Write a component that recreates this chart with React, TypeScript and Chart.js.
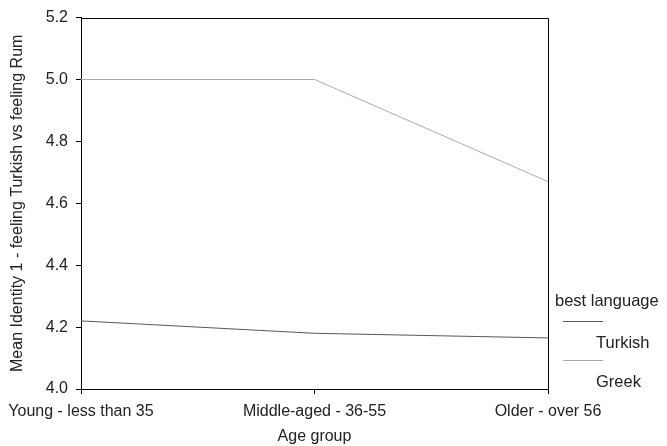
import React, { useEffect, useRef } from "react";
import { Chart, registerables } from "chart.js";

Chart.register(...registerables);

const categories = ["Young - less than 35", "Middle-aged - 36-55", "Older - over 56"];
const turkishValues = [4.22, 4.18, 4.165];
const greekValues = [5.0, 5.0, 4.67];
const seriesNames = ["Turkish", "Greek"];
const legendTitle = "best language";
const yTitle = "Mean Identity 1 - feeling Turkish vs feeling Rum";
const xTitle = "Age group";

const FONT = "'Liberation Sans', Arial, Helvetica, sans-serif";
const FS = 16;
const TURKISH_COLOR = "#5a5a5a";
const GREEK_COLOR = "#ababab";

const legendPlugin = {
  id: "customLegend",
  afterDraw(chart: any) {
    const ctx = chart.ctx;
    ctx.save();
    ctx.font = `16.5px ${FONT}`;
    ctx.fillStyle = "#222";
    ctx.textBaseline = "middle";
    ctx.textAlign = "left";
    ctx.fillText(legendTitle, 555, 301);
    const colors = [TURKISH_COLOR, GREEK_COLOR];
    const lineYs = [321, 360];
    const textYs = [343, 382];
    seriesNames.forEach((name, i) => {
      ctx.strokeStyle = colors[i];
      ctx.lineWidth = 1;
      ctx.beginPath();
      ctx.moveTo(563, lineYs[i] + 0.5);
      ctx.lineTo(603, lineYs[i] + 0.5);
      ctx.stroke();
      ctx.fillText(name, 596, textYs[i]);
    });
    const a = chart.chartArea;
    const t = Math.round(a.top) + 0.5;
    const r = Math.round(a.right) + 0.5;
    ctx.strokeStyle = "#000";
    ctx.lineWidth = 1;
    ctx.beginPath();
    ctx.moveTo(a.left, t);
    ctx.lineTo(r, t);
    ctx.lineTo(r, a.bottom);
    ctx.stroke();
    ctx.restore();
  },
};

export default function App() {
  const ref = useRef<HTMLCanvasElement>(null);
  useEffect(() => {
    document.body.style.margin = "0";
    const chart = new Chart(ref.current!, {
      type: "line",
      data: {
        labels: categories,
        datasets: [
          {
            label: seriesNames[0],
            data: turkishValues,
            borderColor: TURKISH_COLOR,
            borderWidth: 1,
            pointRadius: 0,
            tension: 0,
            fill: false,
          },
          {
            label: seriesNames[1],
            data: greekValues,
            borderColor: GREEK_COLOR,
            borderWidth: 1,
            pointRadius: 0,
            tension: 0,
            fill: false,
          },
        ],
      },
      options: {
        responsive: false,
        animation: false,
        layout: { padding: { top: 17, right: 119, left: 8, bottom: 0 } },
        plugins: { legend: { display: false }, tooltip: { enabled: false } },
        scales: {
          x: {
            offset: false,
            grid: {
              display: true,
              drawOnChartArea: false,
              drawTicks: true,
              tickLength: 5,
              color: "#000",
            },
            border: { display: true, color: "#000", width: 1 },
            ticks: {
              color: "#222",
              font: { family: FONT, size: FS },
              padding: 8,
              maxRotation: 0,
              autoSkip: false,
            },
            title: {
              display: true,
              text: xTitle,
              color: "#222",
              font: { family: FONT, size: FS },
              padding: { top: 1, bottom: 0 },
            },
            afterFit(scale: any) {
              scale.height = 57;
            },
          },
          y: {
            min: 4.0,
            max: 5.2,
            grid: {
              display: true,
              drawOnChartArea: false,
              drawTicks: true,
              tickLength: 5,
              color: "#000",
            },
            border: { display: true, color: "#000", width: 1 },
            ticks: {
              stepSize: 0.2,
              color: "#222",
              font: { family: FONT, size: FS },
              padding: 8,
              callback: (v: any) => Number(v).toFixed(1),
            },
            title: {
              display: true,
              text: yTitle,
              color: "#222",
              font: { family: FONT, size: FS },
              padding: { top: 0, bottom: 4 },
            },
            afterFit(scale: any) {
              scale.width = 73;
            },
          },
        },
      },
      plugins: [legendPlugin],
    });
    return () => chart.destroy();
  }, []);
  return (
    <div style={{ width: 667, height: 446 }}>
      <canvas ref={ref} width={667} height={446} style={{ display: "block" }} />
    </div>
  );
}
